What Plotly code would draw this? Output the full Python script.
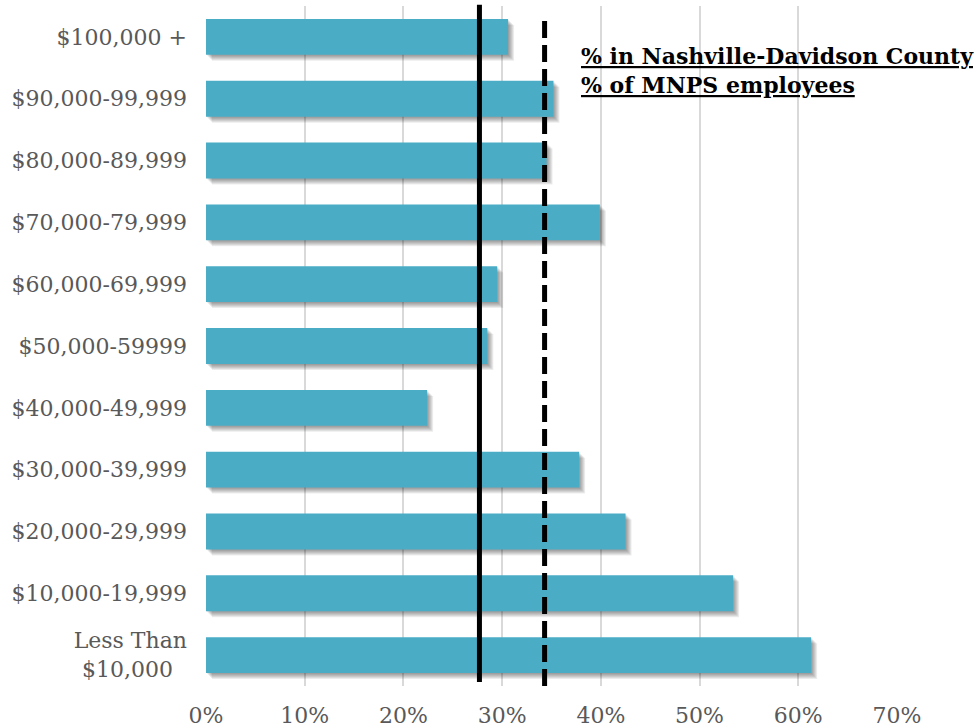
import plotly.graph_objects as go

# Household income bands, bottom to top
income_bands = [
    "Less Than<br>$10,000\u00a0\u00a0",
    "$10,000-19,999",
    "$20,000-29,999",
    "$30,000-39,999",
    "$40,000-49,999",
    "$50,000-59999",
    "$60,000-69,999",
    "$70,000-79,999",
    "$80,000-89,999",
    "$90,000-99,999",
    "$100,000 +",
]
band_share = [0.613, 0.534, 0.425, 0.378, 0.224, 0.285, 0.295, 0.399, 0.345, 0.352, 0.306]

county_pct = 0.277   # % in Nashville-Davidson County
mnps_pct = 0.343     # % of MNPS employees

x_ticks = [0, 0.1, 0.2, 0.3, 0.4, 0.5, 0.6, 0.7]
x_ticklabels = ["0%", "10%", "20%", "30%", "40%", "50%", "60%", "70%"]

W, H = 978, 727
M_L, M_R, M_T, M_B = 206, 81, 6, 41
plot_w = W - M_L - M_R
plot_h = H - M_T - M_B
x_max = 0.7
px_per_x = plot_w / x_max
px_per_cat = plot_h / len(income_bands)

BAR_W = 0.58
BAR_COLOR = "#4BACC6"
serif = "DejaVu Serif"
FS = 22

fig = go.Figure()
ypos = list(range(len(income_bands)))

# soft drop shadow: stacked translucent copies offset down and right
for k in range(1, 7):
    fig.add_trace(go.Bar(
        y=ypos, x=band_share, orientation="h",
        base=[k / px_per_x] * len(band_share),
        width=BAR_W, offset=-BAR_W / 2 - k / px_per_cat,
        marker=dict(color="rgba(0,0,0,0.075)", line=dict(width=0)),
        hoverinfo="skip", showlegend=False,
    ))

fig.add_trace(go.Bar(
    y=ypos, x=band_share, orientation="h",
    width=BAR_W, offset=-BAR_W / 2,
    marker=dict(color=BAR_COLOR, line=dict(width=0)),
    showlegend=False,
))

fig.add_shape(type="line", xref="x", yref="paper", x0=county_pct, x1=county_pct,
              y0=0.006, y1=1.002, line=dict(color="black", width=5), layer="above")
fig.add_shape(type="line", xref="x", yref="paper", x0=mnps_pct, x1=mnps_pct,
              y0=0.0, y1=0.988, line=dict(color="black", width=5, dash="17px,7px"),
              layer="above")

legend_x = (579 - M_L) / plot_w
fig.add_annotation(xref="paper", yref="paper", x=legend_x, y=(M_T + plot_h - 56) / plot_h,
                   xanchor="left", yanchor="middle", showarrow=False,
                   text="<b><u>% in Nashville-Davidson County</u></b>",
                   font=dict(family=serif, size=FS, color="black"))
fig.add_annotation(xref="paper", yref="paper", x=legend_x, y=(M_T + plot_h - 85) / plot_h,
                   xanchor="left", yanchor="middle", showarrow=False,
                   text="<b><u>% of MNPS employees</u></b>",
                   font=dict(family=serif, size=FS, color="black"))

fig.update_layout(
    width=W, height=H,
    margin=dict(l=M_L, r=M_R, t=M_T, b=M_B, autoexpand=False),
    paper_bgcolor="white", plot_bgcolor="white",
    barmode="overlay",
    font=dict(family=serif, size=FS, color="#595959"),
    xaxis=dict(range=[0, x_max], tickvals=x_ticks, ticktext=x_ticklabels,
               showgrid=True, gridcolor="#d9d9d9", gridwidth=2, zeroline=False,
               showline=False, ticks="", ticklabelstandoff=14, automargin=False,
               tickfont=dict(family=serif, size=FS, color="#595959")),
    yaxis=dict(range=[-0.5, len(income_bands) - 0.5], tickvals=ypos, ticktext=income_bands,
               showgrid=False, zeroline=False, showline=False, ticks="",
               ticklabelstandoff=18, automargin=False,
               tickfont=dict(family=serif, size=FS, color="#595959")),
)

fig.write_html("out.html")
